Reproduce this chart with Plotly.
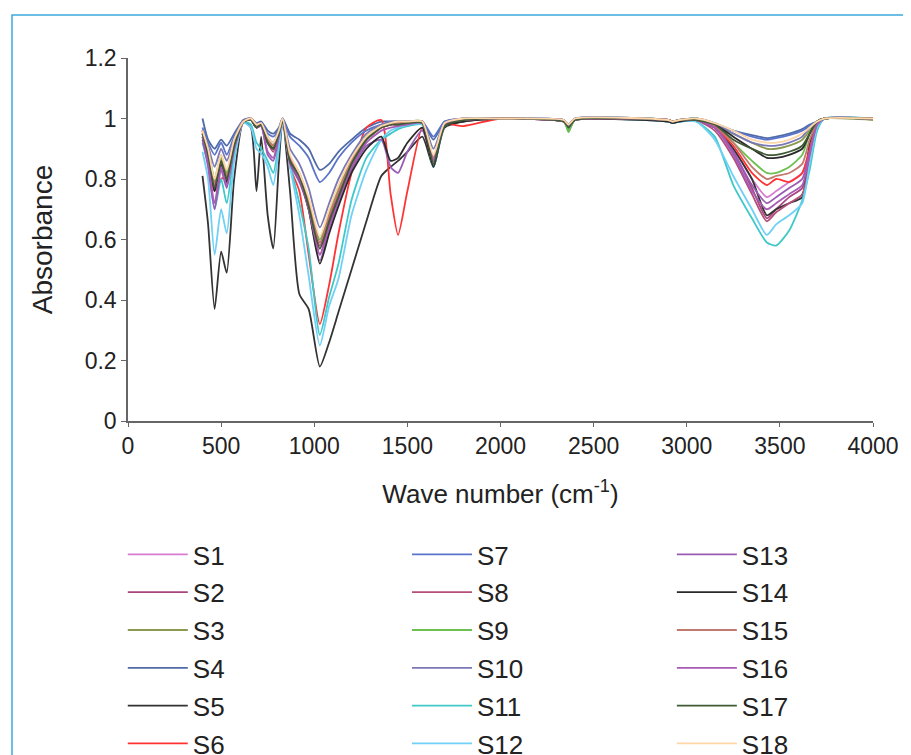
import plotly.graph_objects as go

wavenumber = [400, 430, 465, 500, 530, 570, 620, 660, 690, 715,
              750, 780, 810, 830, 870, 920, 970, 1030, 1080, 1130,
              1200, 1280, 1360, 1410, 1450, 1500, 1580, 1640, 1700, 1800,
              2000, 2340, 2365, 2400, 2900, 2925, 2960, 3050, 3150, 3250,
              3350, 3430, 3480, 3550, 3620, 3660, 3700, 3740, 4000]

S1 = [0.95,0.88,0.77,0.86,0.80,0.91,0.99,0.995,0.97,0.98,
      0.92,0.90,0.95,0.995,0.86,0.80,0.71,0.57,0.66,0.74,
      0.85,0.93,0.97,0.98,0.98,0.985,0.985,0.87,0.98,0.995,
      1.0,0.99,0.975,0.995,0.995,0.99,0.995,0.995,0.97,0.90,
      0.80,0.74,0.76,0.79,0.82,0.90,0.98,1.0,1.0]
S2 = [0.96,0.89,0.78,0.87,0.81,0.92,0.99,0.995,0.975,0.98,
      0.93,0.90,0.955,0.995,0.87,0.81,0.72,0.55,0.65,0.73,
      0.84,0.93,0.97,0.98,0.985,0.985,0.99,0.86,0.98,0.995,
      1.0,0.99,0.97,0.995,0.995,0.99,0.995,0.995,0.97,0.89,
      0.77,0.67,0.70,0.74,0.77,0.88,0.98,1.0,1.0]
S3 = [0.94,0.90,0.79,0.87,0.82,0.92,0.99,0.995,0.97,0.98,
      0.93,0.91,0.95,0.995,0.87,0.82,0.73,0.59,0.68,0.76,
      0.86,0.94,0.975,0.985,0.985,0.99,0.99,0.87,0.98,0.995,
      1.0,0.99,0.96,0.995,0.995,0.99,0.995,1.0,0.98,0.95,
      0.92,0.90,0.90,0.91,0.93,0.96,0.99,1.0,0.995]
S4 = [1.0,0.93,0.90,0.93,0.91,0.95,0.995,1.0,0.985,0.99,
      0.96,0.95,0.97,1.0,0.95,0.93,0.90,0.83,0.85,0.89,
      0.93,0.97,0.99,0.99,0.99,0.99,0.99,0.93,0.99,1.0,
      1.0,0.995,0.98,1.0,0.995,0.99,0.995,1.0,0.985,0.96,
      0.945,0.935,0.94,0.95,0.965,0.98,0.99,1.0,1.0]
S5 = [0.81,0.65,0.37,0.56,0.49,0.80,0.99,0.97,0.76,0.94,
      0.68,0.57,0.85,0.995,0.76,0.42,0.37,0.18,0.26,0.36,
      0.50,0.66,0.81,0.84,0.86,0.89,0.94,0.84,0.97,0.99,
      1.0,0.99,0.97,0.995,0.99,0.985,0.99,0.995,0.97,0.90,
      0.80,0.68,0.70,0.72,0.74,0.92,0.98,1.0,1.0]
S6 = [0.96,0.86,0.76,0.80,0.81,0.88,0.99,1.0,0.98,0.985,
      0.93,0.91,0.96,0.995,0.84,0.76,0.55,0.32,0.45,0.62,
      0.82,0.97,0.995,0.75,0.615,0.76,0.97,0.85,0.98,0.975,
      1.0,0.99,0.975,0.995,0.995,0.99,0.995,0.995,0.97,0.91,
      0.82,0.78,0.80,0.79,0.82,0.90,0.98,1.0,1.0]
S7 = [0.97,0.92,0.88,0.92,0.88,0.94,0.995,1.0,0.98,0.985,
      0.95,0.94,0.965,1.0,0.94,0.91,0.87,0.79,0.82,0.87,
      0.92,0.96,0.98,0.985,0.99,0.99,0.99,0.94,0.99,1.0,
      1.0,0.995,0.98,1.0,0.995,0.99,0.995,1.0,0.98,0.96,
      0.94,0.93,0.935,0.945,0.96,0.975,0.99,1.0,1.0]
S8 = [0.95,0.88,0.76,0.85,0.79,0.91,0.99,0.995,0.97,0.98,
      0.92,0.89,0.95,0.995,0.86,0.80,0.71,0.58,0.67,0.75,
      0.85,0.93,0.97,0.98,0.98,0.985,0.985,0.86,0.98,0.995,
      1.0,0.99,0.97,0.995,0.995,0.99,0.995,0.995,0.96,0.87,
      0.75,0.66,0.69,0.72,0.75,0.86,0.97,1.0,1.0]
S9 = [0.95,0.90,0.80,0.88,0.82,0.92,0.99,1.0,0.975,0.985,
      0.93,0.91,0.96,0.995,0.87,0.81,0.72,0.60,0.69,0.77,
      0.87,0.94,0.975,0.985,0.985,0.99,0.99,0.86,0.98,0.995,
      1.0,0.99,0.955,0.995,0.995,0.99,0.995,1.0,0.98,0.92,
      0.86,0.82,0.82,0.84,0.88,0.95,0.99,1.0,1.0]
S10 = [0.96,0.91,0.84,0.90,0.86,0.93,0.995,1.0,0.98,0.985,
       0.94,0.92,0.96,1.0,0.90,0.85,0.77,0.64,0.72,0.80,
       0.88,0.95,0.98,0.99,0.99,0.99,0.99,0.90,0.985,1.0,
       1.0,0.995,0.975,1.0,0.995,0.99,0.995,1.0,0.98,0.95,
       0.92,0.91,0.91,0.92,0.94,0.97,0.99,1.0,1.0]
S11 = [0.92,0.85,0.70,0.80,0.72,0.88,0.99,0.98,0.92,0.90,
       0.86,0.82,0.92,0.99,0.85,0.72,0.57,0.285,0.41,0.52,
       0.73,0.87,0.93,0.95,0.965,0.975,0.98,0.84,0.975,0.995,
       1.0,0.99,0.97,0.995,0.99,0.985,0.99,0.99,0.94,0.78,
       0.67,0.59,0.58,0.63,0.73,0.83,0.96,1.0,1.0]
S12 = [0.89,0.80,0.55,0.70,0.62,0.86,0.985,0.97,0.90,0.885,
       0.84,0.78,0.90,0.99,0.84,0.68,0.48,0.25,0.38,0.47,
       0.68,0.83,0.93,0.96,0.97,0.98,0.98,0.84,0.975,0.995,
       1.0,0.99,0.97,0.995,0.99,0.985,0.99,0.99,0.93,0.81,
       0.70,0.615,0.65,0.68,0.72,0.85,0.97,1.0,1.0]
S13 = [0.93,0.84,0.70,0.83,0.77,0.90,0.99,0.995,0.97,0.975,
       0.88,0.86,0.94,0.995,0.85,0.79,0.70,0.53,0.63,0.72,
       0.83,0.91,0.93,0.84,0.82,0.89,0.96,0.86,0.98,0.995,
       1.0,0.99,0.975,0.995,0.995,0.99,0.995,0.995,0.97,0.89,
       0.78,0.72,0.74,0.77,0.80,0.89,0.98,1.0,1.0]
S14 = [0.94,0.87,0.76,0.85,0.79,0.91,0.99,0.995,0.97,0.98,
       0.92,0.90,0.95,0.995,0.86,0.80,0.70,0.52,0.62,0.71,
       0.82,0.90,0.94,0.86,0.87,0.92,0.97,0.84,0.975,0.99,
       1.0,0.99,0.975,0.995,0.99,0.985,0.99,0.995,0.98,0.94,
       0.90,0.87,0.87,0.88,0.90,0.95,0.99,1.0,1.0]
S15 = [0.95,0.89,0.78,0.86,0.81,0.92,0.99,0.995,0.975,0.98,
       0.93,0.91,0.955,0.995,0.87,0.81,0.72,0.59,0.68,0.76,
       0.86,0.93,0.97,0.98,0.985,0.985,0.99,0.87,0.98,0.995,
       1.0,0.99,0.975,0.995,0.995,0.99,0.995,0.995,0.975,0.92,
       0.84,0.80,0.81,0.82,0.85,0.93,0.985,1.0,1.0]
S16 = [0.94,0.86,0.72,0.84,0.78,0.90,0.99,0.995,0.97,0.975,
       0.89,0.87,0.945,0.995,0.86,0.80,0.70,0.55,0.64,0.73,
       0.84,0.92,0.96,0.97,0.975,0.98,0.985,0.86,0.98,0.995,
       1.0,0.99,0.975,0.995,0.995,0.99,0.995,0.995,0.97,0.88,
       0.76,0.70,0.72,0.75,0.78,0.88,0.98,1.0,1.0]
S17 = [0.95,0.88,0.77,0.86,0.80,0.91,0.99,0.995,0.97,0.98,
       0.92,0.90,0.95,0.995,0.86,0.81,0.71,0.57,0.66,0.74,
       0.85,0.93,0.97,0.98,0.98,0.985,0.985,0.85,0.975,0.995,
       1.0,0.99,0.97,0.995,0.995,0.99,0.995,0.995,0.98,0.93,
       0.90,0.88,0.88,0.89,0.91,0.95,0.99,1.0,1.0]
S18 = [0.96,0.90,0.80,0.88,0.83,0.93,0.99,1.0,0.98,0.985,
       0.94,0.92,0.96,1.0,0.88,0.82,0.74,0.61,0.70,0.78,
       0.87,0.94,0.975,0.985,0.99,0.99,0.99,0.88,0.985,1.0,
       1.0,0.995,0.98,1.0,0.995,0.99,0.995,1.0,0.985,0.96,
       0.93,0.92,0.92,0.93,0.95,0.97,0.99,1.0,1.0]

series_names = ["S1", "S2", "S3", "S4", "S5", "S6", "S7", "S8", "S9",
                "S10", "S11", "S12", "S13", "S14", "S15", "S16", "S17", "S18"]
series_values = [S1, S2, S3, S4, S5, S6, S7, S8, S9,
                 S10, S11, S12, S13, S14, S15, S16, S17, S18]
series_colors = ["#d77ccf", "#a8457e", "#8a9a50", "#4f6aa6", "#333333", "#ff3333",
                 "#5b74c9", "#b44d79", "#6cc050", "#7a78b5", "#40c8c8", "#70d0f5",
                 "#9a5db5", "#2a2a2a", "#c27a6e", "#a65bb5", "#3f5a35", "#ffd6a8"]

x_ticks = [0, 500, 1000, 1500, 2000, 2500, 3000, 3500, 4000]
y_ticks = [0, 0.2, 0.4, 0.6, 0.8, 1.0, 1.2]
y_tick_labels = ["0", "0.2", "0.4", "0.6", "0.8", "1", "1.2"]

fig = go.Figure()
legend_ids = ["legend", "legend2", "legend3"]
for i, (name, vals, col) in enumerate(zip(series_names, series_values, series_colors)):
    fig.add_trace(go.Scatter(
        x=wavenumber, y=vals, mode="lines", name=name,
        line=dict(color=col, width=1.8, shape="spline", smoothing=0.6),
        legend=legend_ids[i // 6], legendgroup=name,
    ))

FONT = "Liberation Sans, Arial, sans-serif"
legend_common = dict(
    font=dict(family=FONT, size=26, color="#222"),
    bgcolor="rgba(0,0,0,0)", borderwidth=0,
    orientation="v", traceorder="grouped", tracegroupgap=1,
    xanchor="left", yanchor="top", itemwidth=60,
)
fig.update_layout(
    width=911, height=790,
    margin=dict(l=120, r=46, t=50, b=377),
    paper_bgcolor="white", plot_bgcolor="white",
    font=dict(family=FONT, color="#222"),
    legend=dict(x=-0.007, y=-0.303, **legend_common),
    legend2=dict(x=0.3745, y=-0.303, **legend_common),
    legend3=dict(x=0.730, y=-0.303, **legend_common),
    xaxis=dict(range=[0, 4000], tickvals=x_ticks, showgrid=False, zeroline=False,
               showline=True, linecolor="#666", linewidth=1.5,
               ticks="outside", ticklen=4, tickcolor="#666",
               tickfont=dict(size=23, family=FONT, color="#222"),
               title=dict(text="Wave number (cm<sup>-1</sup>)", standoff=26,
                          font=dict(size=26, family=FONT, color="#222"))),
    yaxis=dict(range=[0, 1.2], tickvals=y_ticks, ticktext=y_tick_labels,
               showgrid=False, zeroline=False,
               showline=True, linecolor="#666", linewidth=1.5,
               ticks="outside", ticklen=5, tickcolor="#666",
               tickfont=dict(size=23, family=FONT, color="#222"),
               title=dict(text="Absorbance", standoff=24,
                          font=dict(size=28, family=FONT, color="#222"))),
    shapes=[dict(type="rect", xref="paper", yref="paper",
                 x0=-0.1557, x1=1.0443, y0=-1.2, y1=1.1185,
                 line=dict(color="#3ea9dd", width=1.5), fillcolor="rgba(0,0,0,0)",
                 layer="below")],
)
fig.write_html("out.html")
